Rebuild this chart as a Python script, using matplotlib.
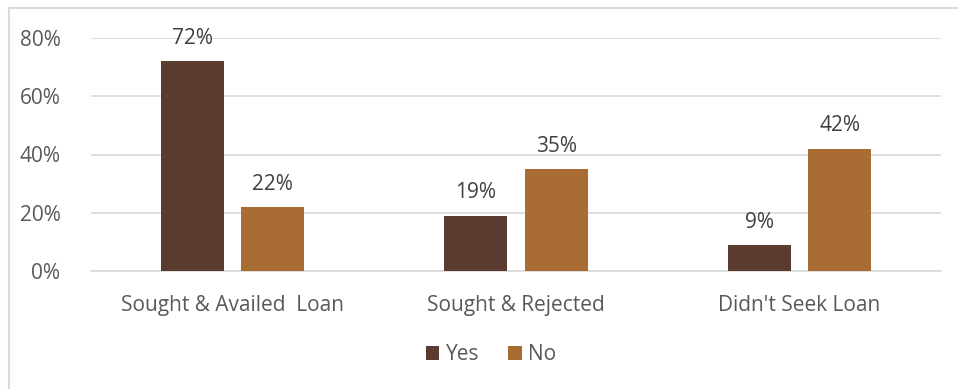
import matplotlib.pyplot as plt
from matplotlib.patches import Rectangle
import numpy as np

categories = ["Sought & Availed  Loan", "Sought & Rejected", "Didn't Seek Loan"]
yes_vals = [72, 19, 9]
no_vals = [22, 35, 42]
series_names = ["Yes", "No"]
yticks = [0, 20, 40, 60, 80]

plt.rcParams['font.family'] = ['Open Sans', 'DejaVu Sans']

W, H = 958, 389
fig = plt.figure(figsize=(W / 100, H / 100), dpi=100)

# outer chart frame
fig.patches.append(Rectangle((9 / W, -0.05), 1.1, (H - 8) / H + 0.05,
                             transform=fig.transFigure, fill=False,
                             edgecolor='#d9d9d9', linewidth=1.5))

ax = fig.add_axes([91 / W, 1 - 271 / H, (941 - 91) / W, (271 - 38) / H])

x = np.arange(len(categories))
bw = 0.223
off = 0.142
c_yes = '#5b3b30'
c_no = '#a96c32'
fs = 15
b1 = ax.bar(x - off, yes_vals, bw, color=c_yes, label=series_names[0], zorder=3)
b2 = ax.bar(x + off, no_vals, bw, color=c_no, label=series_names[1], zorder=3)

for bars, vals in ((b1, yes_vals), (b2, no_vals)):
    for r, v in zip(bars, vals):
        ax.text(r.get_x() + r.get_width() / 2, v + 4.2, f"{v}%",
                ha='center', va='bottom', fontsize=fs, color='#404040')

ax.set_xlim(-0.5, 2.5)
ax.set_ylim(0, 80)
ax.set_yticks(yticks)
ax.set_yticklabels([f"{t}%" for t in yticks], fontsize=fs, color='#595959')
ax.set_xticks(x)
ax.set_xticklabels(categories, fontsize=fs, color='#595959')
ax.tick_params(axis='both', length=0)
ax.tick_params(axis='y', pad=22)
ax.tick_params(axis='x', pad=17)
ax.grid(axis='y', color='#d9d9d9', linewidth=1.2, zorder=0)
for s in ['top', 'right', 'left']:
    ax.spines[s].set_visible(False)
ax.spines['bottom'].set_color('#d9d9d9')
ax.spines['bottom'].set_linewidth(1.2)

leg = fig.legend(handles=[b1, b2], loc='center', bbox_to_anchor=(491 / W, 1 - 355 / H),
                 ncol=2, frameon=False, fontsize=fs, handlelength=0.65,
                 handleheight=0.65, handletextpad=0.3, columnspacing=1.4)
for t in leg.get_texts():
    t.set_color('#595959')

fig.savefig('out.png', dpi=100)
